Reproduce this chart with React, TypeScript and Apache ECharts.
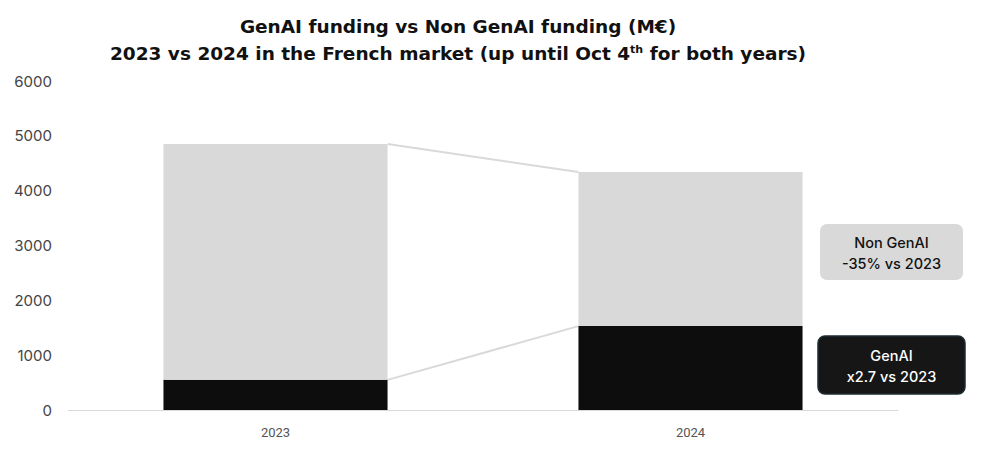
import React, { useEffect, useRef } from "react";
import * as echarts from "echarts";

const categories = ["2023", "2024"];
const genAI = [550, 1530];
const nonGenAI = [4300, 2810];
const yTicks = { min: 0, max: 6000, interval: 1000 };
const annotations = [
  { title: "Non GenAI", sub: "-35% vs 2023" },
  { title: "GenAI", sub: "x2.7 vs 2023" },
];

const totals = genAI.map((g, i) => g + nonGenAI[i]);
const connectors = [
  [0, totals[0], 1, totals[1]],
  [0, genAI[0], 1, genAI[1]],
];

const FONT = "Inter";
const TFONT = "DejaVu Sans";
const BAR_W = 0.54;

export default function App() {
  const ref = useRef<HTMLDivElement>(null);
  useEffect(() => {
    const chart = echarts.init(ref.current!, null, { renderer: "svg" });
    chart.setOption({
      animation: false,
      grid: { left: 68, right: 103, top: 81, bottom: 56 },
      xAxis: {
        type: "category",
        data: categories,
        axisLine: { lineStyle: { color: "#d9d9d9", width: 1 } },
        axisTick: { show: false },
        axisLabel: { color: "#555", fontSize: 13, fontFamily: "Roboto", margin: 16 },
      },
      yAxis: {
        type: "value",
        ...yTicks,
        splitLine: { show: false },
        axisLine: { show: false },
        axisLabel: {
          color: "#444",
          fontSize: 15,
          fontFamily: FONT,
          margin: 16,
          formatter: (v: number) => String(v),
        },
      },
      series: [
        {
          name: "GenAI",
          type: "bar",
          stack: "total",
          barWidth: BAR_W * 100 + "%",
          data: genAI,
          itemStyle: { color: "#0d0d0d" },
        },
        {
          name: "Non GenAI",
          type: "bar",
          stack: "total",
          data: nonGenAI,
          itemStyle: { color: "#d9d9d9" },
        },
        {
          type: "custom",
          data: connectors,
          encode: { x: 0, y: 1 },
          z: 1,
          renderItem: (params: any, api: any) => {
            const half = (api.size([1, 0])[0] * BAR_W) / 2;
            const p0 = api.coord([api.value(0), api.value(1)]);
            const p1 = api.coord([api.value(2), api.value(3)]);
            return {
              type: "line",
              shape: { x1: p0[0] + half, y1: p0[1], x2: p1[0] - half, y2: p1[1] },
              style: { stroke: "#d9d9d9", lineWidth: 2 },
            };
          },
        },
      ],
      graphic: [
        {
          type: "text",
          x: 458,
          y: 13,
          style: {
            text: "{t|GenAI funding vs Non GenAI funding (M€)}\n{t|2023 vs 2024 in the French market (up until Oct 4}{s|th}{t| for both years)}",
            align: "center",
            verticalAlign: "top",
            rich: {
              t: { fontSize: 18.5, fontWeight: 600, fontFamily: TFONT, fill: "#111", color: "#111", lineHeight: 27, align: "center" },
              s: { fontSize: 11, fontWeight: 600, fontFamily: TFONT, fill: "#111", color: "#111", lineHeight: 27, verticalAlign: "top", padding: [4, 0, 0, 0] },
            },
          },
        },
        {
          type: "group",
          x: 820,
          y: 224,
          children: [
            { type: "rect", shape: { x: 0, y: 0, width: 143, height: 56, r: 7 }, style: { fill: "#d9d9d9" } },
            {
              type: "text",
              x: 71.5,
              y: 29,
              style: {
                text: annotations[0].title + "\n" + annotations[0].sub,
                fill: "#111",
                fontSize: 14.5,
                fontWeight: 500,
                fontFamily: FONT,
                lineHeight: 21,
                align: "center",
                verticalAlign: "middle",
              },
            },
          ],
        },
        {
          type: "group",
          x: 818,
          y: 336,
          children: [
            { type: "rect", shape: { x: 0, y: 0, width: 147, height: 58, r: 7 }, style: { fill: "#161616", stroke: "#1c2c33", lineWidth: 1.5 } },
            {
              type: "text",
              x: 73.5,
              y: 30,
              style: {
                text: annotations[1].title + "\n" + annotations[1].sub,
                fill: "#fff",
                fontSize: 14.5,
                fontWeight: 500,
                fontFamily: FONT,
                lineHeight: 21,
                align: "center",
                verticalAlign: "middle",
              },
            },
          ],
        },
      ],
    });
    return () => chart.dispose();
  }, []);
  return (
    <div
      ref={ref}
      style={{ position: "absolute", left: 0, top: 0, width: 1001, height: 466, background: "#fff" }}
    />
  );
}
